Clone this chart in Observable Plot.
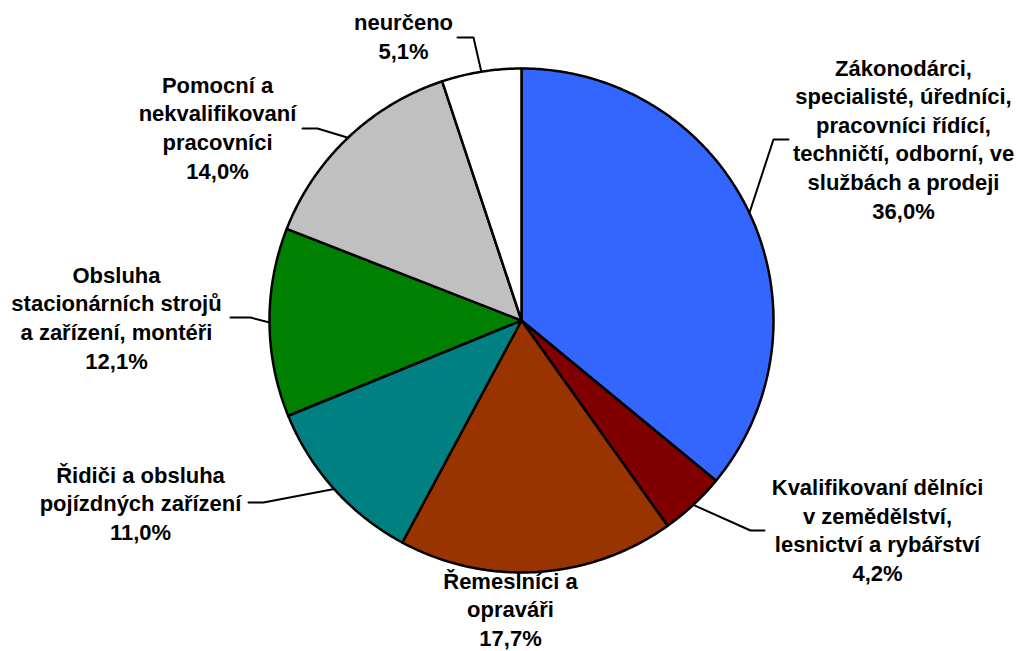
<!DOCTYPE html>
<html>
<head>
<meta charset="utf-8">
<script src="https://cdn.jsdelivr.net/npm/d3@7"></script>
<script src="https://cdn.jsdelivr.net/npm/@observablehq/plot@0.6"></script>
<style>
  html, body { margin: 0; padding: 0; background: #ffffff; }
  #chart svg { display: block; }
</style>
</head>
<body>
<div id="chart"></div>
<script>
// ---- data ----
const categories = [
  "Zákonodárci,\nspecialisté, úředníci,\npracovníci řídící,\ntechničtí, odborní, ve\nslužbách a prodeji",
  "Kvalifikovaní dělníci\nv zemědělství,\nlesnictví a rybářství",
  "Řemeslníci a\nopraváři",
  "Řidiči a obsluha\npojízdných zařízení",
  "Obsluha\nstacionárních strojů\na zařízení, montéři",
  "Pomocní a\nnekvalifikovaní\npracovníci",
  "neurčeno"
];
const values = [36.0, 4.2, 17.7, 11.0, 12.1, 14.0, 5.1];
const valueLabels = ["36,0%", "4,2%", "17,7%", "11,0%", "12,1%", "14,0%", "5,1%"];

// ---- styles ----
const colors = ["#3366FF", "#800000", "#993300", "#008080", "#008000", "#C0C0C0", "#FFFFFF"];

// ---- layout (pixel space of the plot) ----
const W = 1022, H = 651;
const CX = 521, CY = 320, R = 252;
const labelCenters = [[903, 137.5], [877, 528.5], [510, 607.5], [140, 501.5], [116, 316], [217, 126], [403, 35]];
const leaderElbows = [[773, 139], [750, 530], null, [263, 502], [250, 317], [317, 128], [473, 37]];
const leaderEnds = [[788, 139], [764, 530], null, [248, 502], [230, 317], [302, 128], [457, 37]];

// ---- geometry from data ----
const arcs = d3.pie().sort(null).value(d => d)(values);
const polar = (a, r) => ({x: CX + r * Math.sin(a), y: CY - r * Math.cos(a)});

const marks = [];
arcs.forEach((a, i) => {
  const pts = [{x: CX, y: CY}];
  const n = Math.max(2, Math.ceil((a.endAngle - a.startAngle) / (Math.PI / 360)));
  for (let k = 0; k <= n; k++) {
    const ang = a.startAngle + (a.endAngle - a.startAngle) * k / n;
    pts.push(polar(ang, R));
  }
  pts.push({x: CX, y: CY});
  marks.push(Plot.line(pts, {x: "x", y: "y", fill: colors[i], stroke: "#000", strokeWidth: 2.5, strokeLinejoin: "round", curve: "linear"}));
});

// leader lines
const leaders = [];
arcs.forEach((a, i) => {
  if (!leaderElbows[i]) return;
  const mid = (a.startAngle + a.endAngle) / 2;
  const p = polar(mid, R);
  leaders.push({id: i, x: p.x, y: p.y});
  leaders.push({id: i, x: leaderElbows[i][0], y: leaderElbows[i][1]});
  leaders.push({id: i, x: leaderEnds[i][0], y: leaderEnds[i][1]});
});
marks.push(Plot.line(leaders, {x: "x", y: "y", z: "id", stroke: "#000", strokeWidth: 2, curve: "linear"}));

// labels
const labels = categories.map((c, i) => ({
  text: c + "\n" + valueLabels[i],
  x: labelCenters[i][0],
  y: labelCenters[i][1]
}));
marks.push(Plot.text(labels, {
  x: "x", y: "y", text: "text",
  textAnchor: "middle", lineAnchor: "middle", lineHeight: 1.3,
  fontSize: 22, fontWeight: "bold", fontFamily: "Liberation Sans, Arial, sans-serif",
  fill: "#000"
}));

const chart = Plot.plot({
  width: W, height: H, margin: 0,
  x: {domain: [0, W], range: [0, W], axis: null},
  y: {domain: [0, H], range: [0, H], axis: null},
  style: {background: "#ffffff", overflow: "visible"},
  marks
});
document.getElementById("chart").appendChild(chart);
</script>
</body>
</html>
